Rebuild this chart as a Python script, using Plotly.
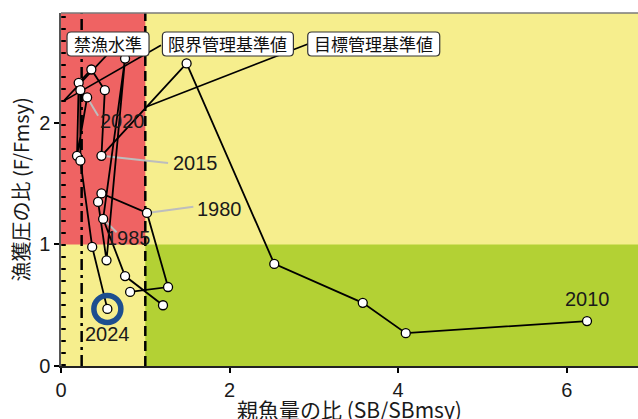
import plotly.graph_objects as go

# Stock trajectory: spawning biomass ratio (SB/SBmsy) vs fishing pressure ratio (F/Fmsy)
years_early = [1978, 1979, 1980, 1981, 1982, 1983, 1984, 1985, 1986, 1987]
sb_early = [0.82, 1.27, 1.02, 0.48, 0.44, 0.54, 0.76, 0.50, 0.76, 1.21]
f_early = [0.61, 0.65, 1.26, 1.42, 1.35, 0.87, 2.53, 1.21, 0.74, 0.50]

years_late = [2010, 2011, 2012, 2013, 2014, 2015, 2016, 2017, 2018, 2019,
              2020, 2021, 2022, 2023, 2024]
sb_late = [6.24, 4.09, 3.58, 2.53, 1.49, 0.48, 0.52, 0.36, 0.21, 0.19,
           0.31, 0.23, 0.23, 0.37, 0.55]
f_late = [0.37, 0.27, 0.52, 0.84, 2.49, 1.73, 2.27, 2.44, 2.33, 1.73,
          2.21, 2.27, 1.69, 0.98, 0.47]

# Reference points (SB/SBmsy)
ref_names = ["禁漁水準", "限界管理基準値", "目標管理基準値"]
ref_values = [0.03, 0.245, 1.0]

labelled_years = [1980, 1985, 2010, 2015, 2020, 2024]

x_title = "親魚量の比 (SB/SBmsy)"
y_title = "漁獲圧の比 (F/Fmsy)"

RED = "#EF6363"
YELLOW = "#F6EE8D"
GREEN = "#B3D134"
BLUE = "#1D4F8F"
FONT = "Liberation Sans, Arial, sans-serif"
JP = "Noto Sans CJK JP, sans-serif"

XMAX, YMAX = 6.845, 2.905

fig = go.Figure()

# zone backgrounds
shapes = [
    dict(type="rect", xref="x", yref="y", x0=0, x1=1.0, y0=1.0, y1=YMAX,
         fillcolor=RED, line_width=0, layer="below"),
    dict(type="rect", xref="x", yref="y", x0=1.0, x1=XMAX, y0=0, y1=1.0,
         fillcolor=GREEN, line_width=0, layer="below"),
]
# reference-point vertical lines
dashes = ["2px,10px", "11px,5px,3px,5px", "10px,5px"]
widths = [4.5, 2.5, 2.5]
for v, d, w in zip(ref_values, dashes, widths):
    shapes.append(dict(type="line", xref="x", yref="y", x0=v, x1=v, y0=0, y1=YMAX,
                       line=dict(color="black", width=w, dash=d), layer="below"))
# top frame line
shapes.append(dict(type="line", xref="paper", yref="paper", x0=0, x1=1, y0=1, y1=1,
                   line=dict(color="#7a7a7a", width=1.5)))

# leader lines from reference labels down to the reference lines
ref_leaders = [
    ([ref_values[0], 0.546], [2.18, 2.56]),
    ([ref_values[0], 1.186], [2.18, 2.64]),
    ([ref_values[2], 2.93], [2.13, 2.65]),
]
for xs, ys in ref_leaders:
    fig.add_trace(go.Scatter(x=xs, y=ys, mode="lines", hoverinfo="skip",
                             line=dict(color="black", width=1.6), showlegend=False))

# gray leaders for year labels (label-side end points)
all_years = years_early + years_late
all_sb = sb_early + sb_late
all_f = f_early + f_late
year_leader_end = {1980: (1.57, 1.31), 1985: (0.66, 1.10),
                   2015: (1.27, 1.67), 2020: (0.44, 2.06)}
for yr, (ex, ey) in year_leader_end.items():
    i = all_years.index(yr)
    fig.add_trace(go.Scatter(x=[all_sb[i], ex], y=[all_f[i], ey], mode="lines",
                             hoverinfo="skip", line=dict(color="#BDBDBD", width=2),
                             showlegend=False))

# trajectories
for sb, f in [(sb_early, f_early), (sb_late, f_late)]:
    fig.add_trace(go.Scatter(
        x=sb, y=f, mode="lines+markers",
        line=dict(color="black", width=1.8),
        marker=dict(size=9, color="white", line=dict(color="black", width=1.3)),
        showlegend=False))

# latest year highlight ring
fig.add_trace(go.Scatter(
    x=[sb_late[-1]], y=[f_late[-1]], mode="markers",
    marker=dict(symbol="circle-open", size=27, color=BLUE, line=dict(color=BLUE, width=5.5)),
    showlegend=False))

annotations = []
year_text_pos = {1980: (1.886, 1.29), 1985: (0.795, 1.05), 2015: (1.60, 1.67),
                 2020: (0.735, 2.02)}
for yr in labelled_years:
    i = all_years.index(yr)
    if yr in year_text_pos:
        tx, ty = year_text_pos[yr]
        annotations.append(dict(x=tx, y=ty, xref="x", yref="y", text=str(yr),
                                showarrow=False, font=dict(family=FONT, size=20, color="#1a1a1a")))
    else:
        shift = -25 if yr == 2024 else 22
        annotations.append(dict(x=all_sb[i], y=all_f[i], xref="x", yref="y", text=str(yr),
                                showarrow=False, yshift=shift,
                                font=dict(family=FONT, size=20, color="#1a1a1a")))


def rounded_box(w, h, r):
    """SVG path (pixels, centred on the anchor) for a rounded rectangle."""
    x0, x1, y0, y1 = -w / 2, w / 2, -h / 2, h / 2
    return (f"M{x0 + r},{y0} L{x1 - r},{y0} Q{x1},{y0} {x1},{y0 + r} "
            f"L{x1},{y1 - r} Q{x1},{y1} {x1 - r},{y1} L{x0 + r},{y1} "
            f"Q{x0},{y1} {x0},{y1 - r} L{x0},{y0 + r} Q{x0},{y0} {x0 + r},{y0} Z")


# reference labels in rounded boxes
ref_label_pos = [(0.558, 2.65), (1.98, 2.65), (3.71, 2.65)]
ref_box_w = [82, 131, 132]
for name, (lx, ly), bw in zip(ref_names, ref_label_pos, ref_box_w):
    shapes.append(dict(type="path", xref="x", yref="y", xsizemode="pixel", ysizemode="pixel",
                       xanchor=lx, yanchor=ly, path=rounded_box(bw, 24, 4),
                       fillcolor="white", line=dict(color="#333333", width=1.2)))
    annotations.append(dict(x=lx, y=ly, xref="x", yref="y", text=name, showarrow=False,
                            font=dict(family=JP, size=17, color="#111111")))

# axis titles
annotations.append(dict(x=0.5, y=0, xref="paper", yref="paper", yanchor="middle",
                        yshift=-43, text=x_title, showarrow=False,
                        font=dict(family=JP, size=21, color="#1a1a1a")))
annotations.append(dict(x=0, y=0.5, xref="paper", yref="paper", xanchor="center",
                        xshift=-41, text=y_title, textangle=-90, showarrow=False,
                        font=dict(family=JP, size=20, color="#1a1a1a")))

fig.update_layout(
    width=638, height=419,
    margin=dict(l=61, r=0, t=13, b=53),
    paper_bgcolor="white", plot_bgcolor=YELLOW,
    shapes=shapes, annotations=annotations,
    showlegend=False,
    xaxis=dict(range=[0, XMAX], tickvals=[0, 2, 4, 6], ticks="outside", ticklen=5,
               tickwidth=1.5, tickcolor="black", showline=True, linecolor="#222222",
               linewidth=1.5, showgrid=False, zeroline=False, automargin=False,
               tickfont=dict(family=FONT, size=20, color="#1a1a1a")),
    yaxis=dict(range=[0, YMAX], tickvals=[0, 1, 2], ticks="outside", ticklen=5,
               tickwidth=1.5, tickcolor="black", showline=True, linecolor="#555555",
               linewidth=1.5, showgrid=False, zeroline=False, automargin=False,
               tickfont=dict(family=FONT, size=20, color="#1a1a1a")),
)

fig.write_html("out.html")
